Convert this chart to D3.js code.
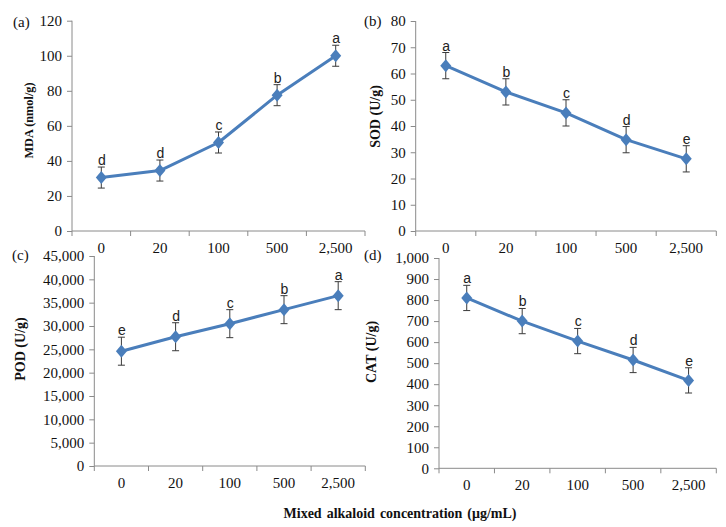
<!DOCTYPE html>
<html><head><meta charset="utf-8">
<script src="https://cdn.jsdelivr.net/npm/d3@7/dist/d3.min.js"></script>
<style>
html,body{margin:0;padding:0;background:#fff;}
svg{display:block;}
</style></head>
<body>
<svg id="chart" width="726" height="527"></svg>
<script>
const categories = ["0", "20", "100", "500", "2,500"];

const mdaValues = [30.5, 34.5, 50.5, 77.5, 100];
const mdaErrors = [6, 6, 6, 6, 6];
const mdaLetters = ["d", "d", "c", "b", "a"];

const sodValues = [63, 53, 45, 34.8, 27.5];
const sodErrors = [5, 5, 5, 5, 5];
const sodLetters = ["a", "b", "c", "d", "e"];

const podValues = [24600, 27700, 30500, 33500, 36500];
const podErrors = [3000, 3000, 3000, 3000, 3000];
const podLetters = ["e", "d", "c", "b", "a"];

const catValues = [810, 700, 605, 515, 418];
const catErrors = [60, 60, 60, 60, 60];
const catLetters = ["a", "b", "c", "d", "e"];

const mdaTicks = [0, 20, 40, 60, 80, 100, 120];
const sodTicks = [0, 10, 20, 30, 40, 50, 60, 70, 80];
const podTicks = [0, 5000, 10000, 15000, 20000, 25000, 30000, 35000, 40000, 45000];
const catTicks = [0, 100, 200, 300, 400, 500, 600, 700, 800, 900, 1000];

const xTitle = "Mixed alkaloid concentration (μg/mL)";

const svg = d3.select("#chart");
const axisColor = "#8a8a8a";
const lineColor = "#4A7EBB";
const serif = "'Liberation Serif','Times New Roman',serif";
const sans = "'Liberation Sans',Arial,sans-serif";

function panel(cfg) {
  const g = svg.append("g");
  const xb = d3.scaleBand().domain(categories).range([cfg.left, cfg.right]).paddingInner(0).paddingOuter(0);
  const y = d3.scaleLinear().domain([0, cfg.max]).range([cfg.bottom, cfg.top]);
  const cx = c => xb(c) + xb.bandwidth() / 2;

  // y axis
  const yAxis = d3.axisLeft(y).tickValues(cfg.ticks).tickSize(5).tickPadding(5)
    .tickFormat(cfg.fmt);
  const ya = g.append("g").attr("transform", `translate(${cfg.left},0)`).call(yAxis);
  ya.select(".domain").attr("stroke", axisColor).attr("d", `M0,${cfg.top}V${cfg.bottom}`);
  ya.selectAll(".tick line").attr("stroke", axisColor);
  ya.selectAll(".tick text").attr("font-family", serif).attr("font-size", 15).attr("fill", "#111");

  // x axis
  const xa = g.append("g").attr("transform", `translate(0,${cfg.bottom})`);
  xa.append("line").attr("x1", cfg.left).attr("x2", cfg.right).attr("stroke", axisColor);
  const bounds = categories.map(c => xb(c)).concat([cfg.right]);
  xa.selectAll("line.tk").data(bounds).join("line").attr("class", "tk")
    .attr("x1", d => d).attr("x2", d => d).attr("y1", 0).attr("y2", 5).attr("stroke", axisColor);
  xa.selectAll("text").data(categories).join("text")
    .attr("x", d => cx(d)).attr("y", 22).attr("text-anchor", "middle")
    .attr("font-family", serif).attr("font-size", 15).attr("fill", "#111").text(d => d);

  // error bars
  const eg = g.append("g").attr("stroke", "#3a3a3a").attr("stroke-width", 1);
  categories.forEach((c, i) => {
    const x = cx(c), v = cfg.values[i], e = cfg.errors[i];
    eg.append("line").attr("x1", x).attr("x2", x).attr("y1", y(v + e)).attr("y2", y(v - e));
    eg.append("line").attr("x1", x - 3.5).attr("x2", x + 3.5).attr("y1", y(v + e)).attr("y2", y(v + e));
    eg.append("line").attr("x1", x - 3.5).attr("x2", x + 3.5).attr("y1", y(v - e)).attr("y2", y(v - e));
  });

  // line
  const line = d3.line().x((d, i) => cx(categories[i])).y(d => y(d));
  g.append("path").datum(cfg.values).attr("d", line).attr("fill", "none")
    .attr("stroke", lineColor).attr("stroke-width", 3).attr("stroke-linejoin", "round");

  // markers
  g.selectAll("path.mk").data(cfg.values).join("path").attr("class", "mk")
    .attr("transform", (d, i) => `translate(${cx(categories[i])},${y(d)})`)
    .attr("d", "M0,-6.5L5.5,0L0,6.5L-5.5,0Z").attr("fill", lineColor);

  // letters
  g.selectAll("text.lt").data(cfg.letters).join("text").attr("class", "lt")
    .attr("x", (d, i) => cx(categories[i]) + 0.5)
    .attr("y", (d, i) => y(cfg.values[i] + cfg.errors[i]) - 2)
    .attr("text-anchor", "middle").attr("font-family", sans).attr("font-size", 14)
    .attr("fill", "#222").text(d => d);

  // panel label
  g.append("text").attr("x", cfg.labX).attr("y", cfg.labY).attr("font-family", serif)
    .attr("font-size", 15).attr("fill", "#111").text(cfg.label);

  // y title
  g.append("text").attr("transform", `translate(${cfg.titX},${cfg.titY}) rotate(-90)`)
    .attr("text-anchor", "middle").attr("dominant-baseline", "central")
    .attr("font-family", serif).attr("font-weight", "bold").attr("font-size", cfg.titSize)
    .attr("fill", "#111").text(cfg.title);
}

panel({left: 72, right: 365, bottom: 231, top: 20.7, max: 120, ticks: mdaTicks, fmt: d3.format("d"),
  values: mdaValues, errors: mdaErrors, letters: mdaLetters, label: "(a)", labX: 13, labY: 27,
  title: "MDA (nmol/g)", titX: 29, titY: 120.5, titSize: 12.3});
panel({left: 415.7, right: 716.3, bottom: 231, top: 21, max: 80, ticks: sodTicks, fmt: d3.format("d"),
  values: sodValues, errors: sodErrors, letters: sodLetters, label: "(b)", labX: 364, labY: 26,
  title: "SOD (U/g)", titX: 375, titY: 116.5, titSize: 14});
panel({left: 94.3, right: 365.3, bottom: 466, top: 256, max: 45000, ticks: podTicks, fmt: d3.format(","),
  values: podValues, errors: podErrors, letters: podLetters, label: "(c)", labX: 12, labY: 260,
  title: "POD (U/g)", titX: 20, titY: 349, titSize: 14});
panel({left: 439, right: 716.3, bottom: 468.3, top: 258, max: 1000, ticks: catTicks, fmt: d3.format(","),
  values: catValues, errors: catErrors, letters: catLetters, label: "(d)", labX: 364, labY: 260,
  title: "CAT (U/g)", titX: 371.5, titY: 352, titSize: 14});

svg.append("text").attr("x", 400).attr("y", 518).attr("text-anchor", "middle")
  .attr("font-family", serif).attr("font-weight", "bold").attr("font-size", 14)
  .attr("word-spacing", 1.5).attr("fill", "#111").text(xTitle);
</script>
</body></html>
